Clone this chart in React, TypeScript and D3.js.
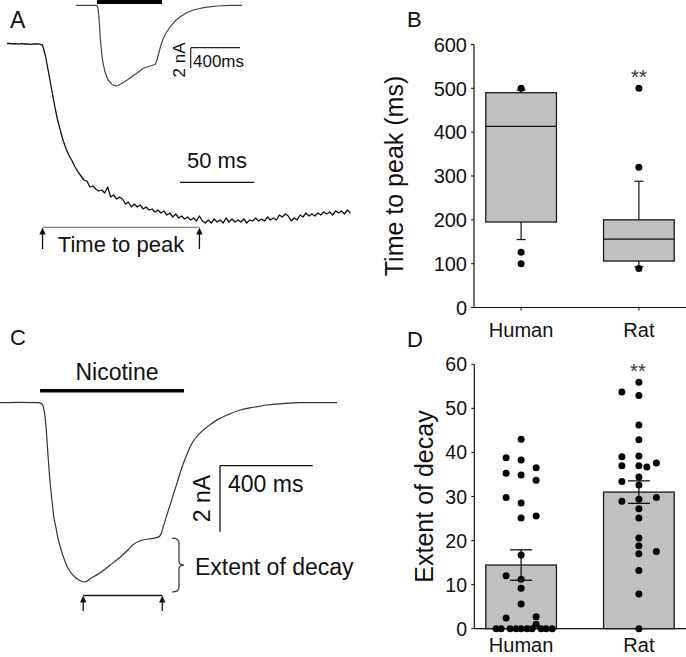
import React from 'react';
import * as d3 from 'd3';

const FONT = '"Liberation Sans", Arial, Helvetica, sans-serif';

// ---- Panel A: whole-cell current (pA), sampled every 2 ms ----
const traceASampleMs = 2;
const traceACurrent = [0, 2, -5, -1, -7, -2, -5, -3, -8, -4, -5, -7, -15,
  -125, -285, -445, -605, -755, -865, -975, -1055, -1125, -1175, -1235, -1285, -1325, -1365, -1375, -1435, -1425, -1455, -1475, -1465,
  -1495, -1435, -1535, -1515, -1555, -1535, -1555, -1605, -1585, -1635, -1605, -1635, -1615, -1655, -1635, -1665, -1655, -1685,
  -1665, -1695, -1675, -1715, -1695, -1735, -1705, -1745, -1725, -1755, -1735, -1765, -1745, -1775, -1725, -1775, -1795, -1765,
  -1795, -1755, -1785, -1765, -1795, -1745, -1785, -1755, -1785, -1765, -1785, -1755, -1795, -1765, -1775, -1745, -1775, -1755,
  -1775, -1735, -1765, -1745, -1765, -1715, -1735, -1705, -1725, -1775, -1745, -1765, -1715, -1735, -1695, -1725, -1705, -1725,
  -1695, -1715, -1685, -1705, -1685, -1715, -1675, -1695, -1675, -1705, -1665, -1695];
const timeToPeakMarks = [24, 130]; // ms: onset, peak
const scaleBarAms = 50;

// ---- Panel A inset: current (nA) vs time (ms) ----
const insetTime = [0, 170, 178, 187, 195, 207, 219, 235, 260, 292, 324, 341, 397, 438, 495, 543, 600, 641, 657, 673, 689, 706, 730, 762, 803, 843, 900, 965, 1046, 1144, 1249, 1346];
const insetCurrent = [0, 0, -0.27, -1.25, -2.93, -4.6, -5.68, -6.57, -7.36, -7.8, -7.95, -7.9, -7.51, -7.16, -6.67, -6.23, -5.98, -5.83, -5.39, -4.6, -3.91, -3.32, -2.73, -2.14, -1.55, -1.15, -0.71, -0.41, -0.2, -0.07, -0.01, 0];
const insetNicotine = [170, 697];

// ---- Panel C: current (nA) vs time (ms) ----
const traceCTime = [0, 86, 164, 177, 186, 192, 199, 207, 216, 224, 233, 242, 250, 259, 272, 289, 311, 332, 350, 367, 388, 432, 475, 518, 552, 574, 604, 647, 682, 695, 704, 716, 734, 751, 764, 781, 803, 829, 863, 898, 937, 984, 1036, 1101, 1152, 1230, 1295, 1454];
const traceCCurrent = [0, 0.01, 0, -0.02, -0.1, -0.31, -0.77, -1.58, -2.4, -2.95, -3.49, -3.8, -4.1, -4.34, -4.64, -4.95, -5.19, -5.33, -5.4, -5.43, -5.34, -5.15, -4.92, -4.68, -4.46, -4.3, -4.18, -4.12, -4.07, -3.98, -3.77, -3.49, -3.1, -2.71, -2.43, -2.04, -1.62, -1.22, -0.92, -0.71, -0.52, -0.36, -0.22, -0.13, -0.07, -0.02, 0, 0];
const nicotineOn = [173, 794];
const decayMarks = [359, 700];
const scaleBarMs = 400;
const scaleBarNA = 2;

// ---- Panel B: time to peak (ms) box plots ----
const categories = ['Human', 'Rat'];
const peakTicks = [0, 100, 200, 300, 400, 500, 600];
const peakQ1 = [195, 106];
const peakMedian = [413, 156];
const peakQ3 = [490, 200];
const peakWhiskerLow = [155, 93];
const peakWhiskerHigh = [496, 288];
const humanPeakOutliers = [500, 126, 100];
const ratPeakOutliers = [500, 320, 89];

// ---- Panel D: extent of decay ----
const decayTicks = [0, 10, 20, 30, 40, 50, 60];
const decayMean = [14.45, 31.0];
const decaySem = [3.45, 2.55];
const humanDecay = [43.0, 38.8, 38.3, 36.5, 35.3, 34.9, 33.7, 29.8, 28.5, 25.6, 25.1, 16.7, 12.0, 11.2, 9.2, 5.6, 2.7, 2.4, 1.0, 0, 0, 0, 0, 0, 0, 0, 0, 0, 0];
const humanJitter = [0, -15, 0, 15, -15, 0, 15, -15, 0, 15, 0, 0, -15, 0, 0, 0, 15, -15, 15, -25, -20, -11, -5, 0, 6, 11, 20, 25, 31];
const ratDecay = [55.9, 53.7, 52.9, 46.2, 42.9, 39.2, 39.0, 37.6, 37.0, 37.0, 36.7, 34.4, 33.4, 32.6, 29.8, 29.4, 28.9, 27.2, 25.1, 20.6, 18.8, 17.5, 17.0, 13.2, 7.9, 0];
const ratJitter = [0, -17, 0, 0, 0, 0, -17, 17.5, -17, 0, 8, 0, -17, 0, 17.5, 0, -17, 0, 0, 0, 0, 17.5, 0, 0, 0, 0];

const INK = '#111';

function Arrow({ x, yBase, yTip }: { x: number; yBase: number; yTip: number }) {
  return (
    <g>
      <line x1={x} x2={x} y1={yBase} y2={yTip + 5} stroke={INK} strokeWidth={1.3} />
      <path d={`M${x},${yTip} L${x - 3.2},${yTip + 7} L${x + 3.2},${yTip + 7} Z`} fill={INK} />
    </g>
  );
}

export default function App() {
  // Panel A
  const xA = d3.scaleLinear().domain([0, 232]).range([7, 350.4]);
  const yA = d3.scaleLinear().domain([0, -1785]).range([43.5, 222]);
  const lineA = d3.line<number>().x((_, i) => xA(i * traceASampleMs)).y((d) => yA(d));

  const xIn = d3.scaleLinear().domain([0, 1346]).range([76, 242]);
  const yIn = d3.scaleLinear().domain([0, -7.95]).range([5.3, 86]);
  const lineIn = d3.line<number>().x((_, i) => xIn(insetTime[i])).y((d) => yIn(d));

  // Panel C
  const xC = d3.scaleLinear().domain([0, 1454]).range([0, 337]);
  const yC = d3.scaleLinear().domain([0, -5.43]).range([402.7, 582]);
  const lineC = d3.line<number>().x((_, i) => xC(traceCTime[i])).y((d) => yC(d)).curve(d3.curveMonotoneX);

  // Panel B
  const xB = d3.scalePoint<string>().domain(categories).range([474, 686]).padding(0.4);
  const yB = d3.scaleLinear().domain([0, 600]).range([307.5, 44.5]);
  const boxW = xB.step() * 0.6;

  // Panel D
  const yD = d3.scaleLinear().domain([0, 60]).range([628.7, 364.3]);

  const outliers = [humanPeakOutliers, ratPeakOutliers];
  const decayDots = [humanDecay, ratDecay];
  const jitters = [humanJitter, ratJitter];

  const aPeakX1 = xA(timeToPeakMarks[0]);
  const aPeakX2 = xA(timeToPeakMarks[1]);
  const cX1 = xC(decayMarks[0]);
  const cX2 = xC(decayMarks[1]);

  const braceTop = yC(traceCCurrent[traceCTime.indexOf(695)]) + 4;
  const braceBot = yC(d3.min(traceCCurrent) as number) + 10;
  const braceX = 179;
  const braceMid = (braceTop + braceBot) / 2;

  const sbCx = 220;
  const sbCy = 465.7;
  const sbAx = 190.7;
  const sbAy = 47.7;

  return (
    <svg width={686} height={657} style={{ position: 'absolute', left: 0, top: 0, background: '#fff' }} fontFamily={FONT}>
      <rect width={686} height={657} fill="#fff" />

      {/* ===== Panel A ===== */}
      <text x={10} y={28} fontSize={23} fill={INK}>A</text>
      <path d={lineA(traceACurrent) || ''} fill="none" stroke="#111" strokeWidth={1.3} strokeLinejoin="round" />
      {/* inset */}
      <rect x={xIn(insetNicotine[0])} y={-2} width={xIn(insetNicotine[1]) - xIn(insetNicotine[0])} height={6} fill="#000" />
      <path d={lineIn(insetCurrent) || ''} fill="none" stroke="#444" strokeWidth={1.2} strokeLinejoin="round" />
      <line x1={sbAx} x2={sbAx} y1={sbAy} y2={sbAy + (yIn(-scaleBarNA) - yIn(0))} stroke="#222" strokeWidth={1.2} />
      <line x1={sbAx} x2={sbAx + (xIn(scaleBarMs) - xIn(0))} y1={sbAy} y2={sbAy} stroke="#222" strokeWidth={1.2} />
      <text x={193} y={67} fontSize={17} fill={INK}>400ms</text>
      <text transform="translate(185,60) rotate(-90)" textAnchor="middle" fontSize={17} fill={INK}>2 nA</text>
      {/* 50 ms scale bar */}
      <line x1={180} x2={180 + xA(scaleBarAms) - xA(0)} y1={182.3} y2={182.3} stroke="#111" strokeWidth={1.3} />
      <text x={217} y={168} textAnchor="middle" fontSize={22} fill={INK}>50 ms</text>
      {/* time to peak */}
      <line x1={aPeakX1} x2={aPeakX2} y1={227.3} y2={227.3} stroke="#666" strokeWidth={1} />
      <Arrow x={aPeakX1} yBase={249} yTip={227.5} />
      <Arrow x={aPeakX2} yBase={249} yTip={227.5} />
      <text x={121} y={251.5} textAnchor="middle" fontSize={22} fill={INK}>Time to peak</text>

      {/* ===== Panel B ===== */}
      <text x={407} y={27} fontSize={22} fill={INK}>B</text>
      <line x1={474} x2={474} y1={yB(600)} y2={yB(0)} stroke="#111" strokeWidth={1.2} />
      <line x1={474} x2={686} y1={yB(0)} y2={yB(0)} stroke="#111" strokeWidth={1.2} />
      {peakTicks.map((t) => (
        <g key={'bt' + t}>
          <line x1={471} x2={474} y1={yB(t)} y2={yB(t)} stroke="#111" strokeWidth={1} />
          <text x={467} y={yB(t)} dy="0.36em" textAnchor="end" fontSize={20} fill={INK}>{t}</text>
        </g>
      ))}
      {categories.map((c, i) => {
        const cx = xB(c) as number;
        return (
          <g key={'box' + c}>
            <line x1={cx} x2={cx} y1={yB(0)} y2={yB(0) + 3} stroke="#111" strokeWidth={1} />
            {/* whiskers */}
            <line x1={cx} x2={cx} y1={yB(peakQ1[i])} y2={yB(peakWhiskerLow[i])} stroke="#111" strokeWidth={1.2} />
            <line x1={cx - 4.5} x2={cx + 4.5} y1={yB(peakWhiskerLow[i])} y2={yB(peakWhiskerLow[i])} stroke="#111" strokeWidth={1.2} />
            <line x1={cx} x2={cx} y1={yB(peakQ3[i])} y2={yB(peakWhiskerHigh[i])} stroke="#111" strokeWidth={1.2} />
            <line x1={cx - 4.5} x2={cx + 4.5} y1={yB(peakWhiskerHigh[i])} y2={yB(peakWhiskerHigh[i])} stroke="#111" strokeWidth={1.2} />
            <rect x={cx - boxW / 2} y={yB(peakQ3[i])} width={boxW} height={yB(peakQ1[i]) - yB(peakQ3[i])} fill="#c0c0c0" stroke="#1a1a1a" strokeWidth={1.3} />
            <line x1={cx - boxW / 2} x2={cx + boxW / 2} y1={yB(peakMedian[i])} y2={yB(peakMedian[i])} stroke="#111" strokeWidth={1.3} />
            {outliers[i].map((v, k) => (
              <circle key={k} cx={cx} cy={yB(v)} r={3.5} fill="#000" />
            ))}
            <text x={cx} y={337} textAnchor="middle" fontSize={20} fill={INK}>{c}</text>
          </g>
        );
      })}
      <text x={xB('Rat') as number} y={84} textAnchor="middle" fontSize={20} fill="#333">**</text>
      <text transform={`translate(403,${(yB(0) + yB(600)) / 2}) rotate(-90)`} textAnchor="middle" fontSize={25} fill={INK}>Time to peak (ms)</text>

      {/* ===== Panel C ===== */}
      <text x={10} y={345} fontSize={22} fill={INK}>C</text>
      <text x={117} y={380} textAnchor="middle" fontSize={23} fill={INK}>Nicotine</text>
      <line x1={xC(nicotineOn[0])} x2={xC(nicotineOn[1])} y1={390.7} y2={390.7} stroke="#000" strokeWidth={3.5} />
      <path d={lineC(traceCCurrent) || ''} fill="none" stroke="#333" strokeWidth={1.2} strokeLinejoin="round" />
      <line x1={sbCx} x2={sbCx} y1={sbCy} y2={sbCy + (yC(-scaleBarNA) - yC(0))} stroke="#111" strokeWidth={1.3} />
      <line x1={sbCx} x2={sbCx + (xC(scaleBarMs) - xC(0))} y1={sbCy} y2={sbCy} stroke="#111" strokeWidth={1.3} />
      <text x={228} y={491.5} fontSize={23} fill={INK}>400 ms</text>
      <text transform="translate(210,498.5) rotate(-90)" textAnchor="middle" fontSize={23} fill={INK}>2 nA</text>
      <path
        d={`M${braceX - 7},${braceTop} Q${braceX},${braceTop} ${braceX},${braceTop + 5} L${braceX},${braceMid - 4} Q${braceX},${braceMid} ${braceX + 5},${braceMid} Q${braceX},${braceMid} ${braceX},${braceMid + 4} L${braceX},${braceBot - 5} Q${braceX},${braceBot} ${braceX - 7},${braceBot}`}
        fill="none" stroke="#333" strokeWidth={1.2}
      />
      <text x={195} y={575} fontSize={23} fill={INK}>Extent of decay</text>
      <line x1={cX1} x2={cX2} y1={595.5} y2={595.5} stroke="#111" strokeWidth={1.3} />
      <Arrow x={cX1} yBase={611} yTip={595.5} />
      <Arrow x={cX2} yBase={611} yTip={595.5} />

      {/* ===== Panel D ===== */}
      <text x={407} y={347} fontSize={22} fill={INK}>D</text>
      <line x1={474.3} x2={474.3} y1={yD(60)} y2={yD(0)} stroke="#111" strokeWidth={1.2} />
      <line x1={474.3} x2={686} y1={yD(0)} y2={yD(0)} stroke="#111" strokeWidth={1.2} />
      {decayTicks.map((t) => (
        <g key={'dt' + t}>
          <line x1={471.3} x2={474.3} y1={yD(t)} y2={yD(t)} stroke="#111" strokeWidth={1} />
          <text x={467} y={yD(t)} dy="0.36em" textAnchor="end" fontSize={19.5} fill={INK}>{t}</text>
        </g>
      ))}
      {categories.map((c, i) => {
        const cx = xB(c) as number;
        return (
          <g key={'bar' + c}>
            <line x1={cx} x2={cx} y1={yD(0)} y2={yD(0) + 3} stroke="#111" strokeWidth={1} />
            <rect x={cx - boxW / 2} y={yD(decayMean[i])} width={boxW} height={yD(0) - yD(decayMean[i])} fill="#c0c0c0" stroke="#1a1a1a" strokeWidth={1.3} />
            {decayDots[i].map((v, k) => (
              <circle key={k} cx={cx + jitters[i][k]} cy={yD(v)} r={3.5} fill="#000" />
            ))}
            <line x1={cx} x2={cx} y1={yD(decayMean[i] - decaySem[i])} y2={yD(decayMean[i] + decaySem[i])} stroke="#111" strokeWidth={1.3} />
            <line x1={cx - 11} x2={cx + 11} y1={yD(decayMean[i] + decaySem[i])} y2={yD(decayMean[i] + decaySem[i])} stroke="#111" strokeWidth={1.3} />
            <line x1={cx - 11} x2={cx + 11} y1={yD(decayMean[i] - decaySem[i])} y2={yD(decayMean[i] - decaySem[i])} stroke="#111" strokeWidth={1.3} />
            <text x={cx} y={652} textAnchor="middle" fontSize={20} fill={INK}>{c}</text>
          </g>
        );
      })}
      <text x={(xB('Rat') as number) - 1} y={378} textAnchor="middle" fontSize={20} fill="#333">**</text>
      <text transform={`translate(433,${(yD(0) + yD(60)) / 2}) rotate(-90)`} textAnchor="middle" fontSize={25} fill={INK}>Extent of decay</text>
    </svg>
  );
}
